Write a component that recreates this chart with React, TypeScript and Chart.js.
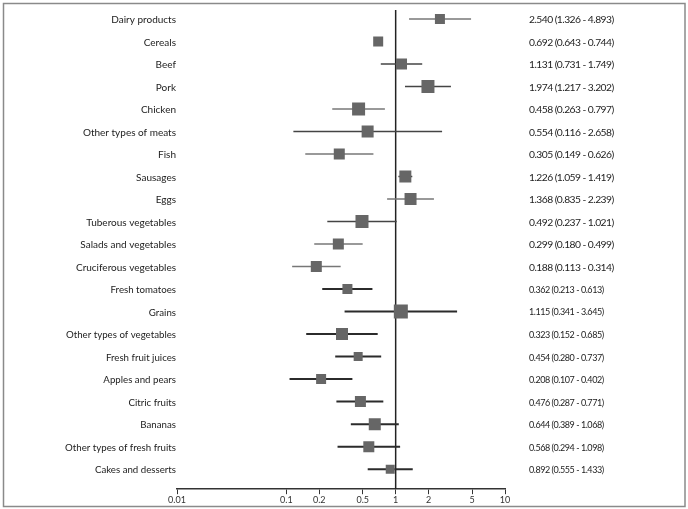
import React, { useEffect, useRef } from "react";
import { Chart, registerables } from "chart.js";

Chart.register(...registerables);

const categories = [
  "Dairy products", "Cereals", "Beef", "Pork", "Chicken", "Other types of meats",
  "Fish", "Sausages", "Eggs", "Tuberous vegetables", "Salads and vegetables",
  "Cruciferous vegetables", "Fresh tomatoes", "Grains", "Other types of vegetables",
  "Fresh fruit juices", "Apples and pears", "Citric fruits", "Bananas",
  "Other types of fresh fruits", "Cakes and desserts",
];
const estimates = [2.540, 0.692, 1.131, 1.974, 0.458, 0.554, 0.305, 1.226, 1.368, 0.492, 0.299, 0.188, 0.362, 1.115, 0.323, 0.454, 0.208, 0.476, 0.644, 0.568, 0.892];
const lowerCI = [1.326, 0.643, 0.731, 1.217, 0.263, 0.116, 0.149, 1.059, 0.835, 0.237, 0.180, 0.113, 0.213, 0.341, 0.152, 0.280, 0.107, 0.287, 0.389, 0.294, 0.555];
const upperCI = [4.893, 0.744, 1.749, 3.202, 0.797, 2.658, 0.626, 1.419, 2.239, 1.021, 0.499, 0.314, 0.613, 3.645, 0.685, 0.737, 0.402, 0.771, 1.068, 1.098, 1.433];
// relative study weights (marker size)
const weights = [10, 10, 11, 13, 13, 12, 11, 12, 12, 13, 11, 11, 10, 14, 12, 9, 10, 11, 12, 11, 9];
const tickValues = [0.01, 0.1, 0.2, 0.5, 1, 2, 5, 10];

const FONT = "Lato";
const LOWER_PANEL_START = 12;
const DARK_UPPER = new Set([2, 3, 5, 7, 9]);

export default function App() {
  const ref = useRef<HTMLCanvasElement | null>(null);

  useEffect(() => {
    const canvas = ref.current;
    if (!canvas) return;

    const whiskers = categories.map((_, i) => {
      const lowerPanel = i >= LOWER_PANEL_START;
      return {
        type: "line" as const,
        data: [
          { x: lowerCI[i], y: i },
          { x: upperCI[i], y: i },
        ],
        borderColor: lowerPanel ? "#2b2b2b" : DARK_UPPER.has(i) ? "#444" : "#777",
        borderWidth: lowerPanel ? 2 : 1.5,
        pointRadius: 0,
        order: 2,
      };
    });

    const refLine = {
      type: "line" as const,
      data: [
        { x: 1, y: -0.4 },
        { x: 1, y: 20.89 },
      ],
      borderColor: "#222",
      borderWidth: 1.5,
      pointRadius: 0,
      order: 3,
    };

    const markers = {
      type: "scatter" as const,
      data: estimates.map((e, i) => ({ x: e, y: i })),
      pointStyle: "rect",
      pointRadius: weights.map((w) => w / Math.SQRT2),
      backgroundColor: "#666",
      borderColor: "#666",
      borderWidth: 0,
      order: 1,
    };

    const textPlugin = {
      id: "forestText",
      afterDraw(chart: any) {
        const ctx = chart.ctx as any;
        const y = chart.scales.y;
        const x = chart.scales.x;
        ctx.save();
        ctx.fillStyle = "#222";
        ctx.textBaseline = "middle";
        categories.forEach((c, i) => {
          const lowerPanel = i >= LOWER_PANEL_START;
          const py = y.getPixelForValue(i);
          ctx.font = `${lowerPanel ? 9.7 : 10}px ${FONT}`;
          ctx.letterSpacing = "0px";
          ctx.textAlign = "right";
          ctx.fillText(c, x.left - 1, py + 1);
          ctx.font = `${lowerPanel ? 9 : 10.3}px ${FONT}`;
          ctx.letterSpacing = lowerPanel ? "-0.45px" : "-0.55px";
          ctx.textAlign = "left";
          const txt = `${estimates[i].toFixed(3)} (${lowerCI[i].toFixed(3)} - ${upperCI[i].toFixed(3)})`;
          ctx.fillText(txt, 529, py + 1);
        });
        ctx.letterSpacing = "0px";
        ctx.strokeStyle = "#8a8a8a";
        ctx.lineWidth = 1.5;
        ctx.strokeRect(3.5, 3.5, 681.5, 503);
        ctx.restore();
      },
    };

    const chart = new Chart(canvas, {
      type: "scatter",
      data: { datasets: [...whiskers, refLine, markers] as any },
      options: {
        animation: false,
        responsive: false,
        maintainAspectRatio: false,
        layout: { padding: { left: 177, right: 183, top: 9, bottom: 4 } },
        plugins: {
          legend: { display: false },
          tooltip: { enabled: false },
        },
        scales: {
          x: {
            type: "logarithmic",
            min: 0.01,
            max: 10,
            afterBuildTicks: (axis: any) => {
              axis.ticks = tickValues.map((v) => ({ value: v }));
            },
            ticks: {
              autoSkip: false,
              maxRotation: 0,
              color: "#333",
              padding: 0,
              font: { family: FONT, size: 9 },
              callback: (v: any) => String(v),
            },
            grid: {
              display: true,
              drawOnChartArea: false,
              drawTicks: true,
              tickLength: 5,
              color: "#333",
            },
            border: { display: true, color: "#333", width: 1.5 },
          },
          y: {
            type: "linear",
            min: -0.4,
            max: 20.89,
            reverse: true,
            display: false,
          },
        },
      },
      plugins: [textPlugin],
    });

    return () => chart.destroy();
  }, []);

  return (
    <div style={{ position: "absolute", left: 0, top: 0, width: 688, height: 509, background: "#fff" }}>
      <canvas ref={ref} width={688} height={509} style={{ display: "block" }} />
    </div>
  );
}
